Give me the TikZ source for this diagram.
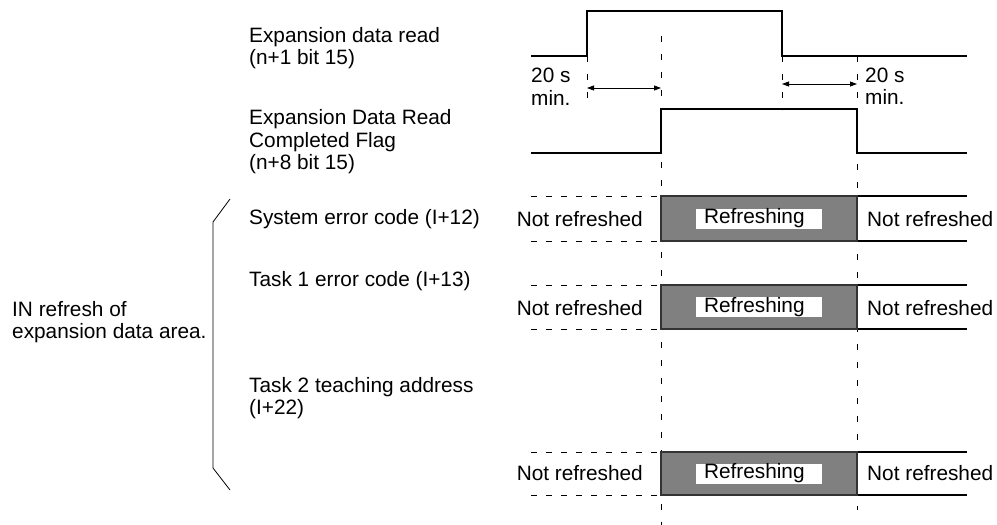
\documentclass[tikz,border=0pt]{standalone}
\usepackage{fontspec}
\setmainfont{Liberation Sans}
\usetikzlibrary{arrows.meta}
\tikzset{
    >={Triangle[length=7pt,width=5pt]},
    signal/.style={line width=1.1pt},
    guide/.style={line width=0.9pt, dash pattern=on 6pt off 12pt},
    band/.style={line width=0.9pt, dash pattern=on 6pt off 9pt},
    txt/.style={inner sep=0pt, align=left, font=\fontsize{20.8}{22.5}\selectfont},
    busy/.style={fill=gray, draw=black!80, line width=1.1pt},
    tag/.style={txt, fill=white, text width=110pt, inner xsep=8pt, minimum height=20pt}
}

\begin{document}
\begin{tikzpicture}[x=1pt, y=-1pt]
    \useasboundingbox (0,0) rectangle (997,525);

    % timing points
    \coordinate (rdon) at (587,56);
    \coordinate (rdoff) at (782,56);
    \coordinate (flon) at (661,153);
    \coordinate (floff) at (857,153);

    % guide lines
    \draw[guide] (587,56) -- (587,105);
    \draw[guide] (782,56) -- (782,110);
    \draw[guide] (661,36) -- (661,525);
    \draw[guide] (857,56) -- (857,510);

    % expansion data read
    \draw[signal] (531,56) -- (rdon) -- (587,11) -- (782,11) -- (rdoff) -- (967,56);
    % completed flag
    \draw[signal] (531,153) -- (flon) -- (661,109) -- (857,109) -- (floff) -- (967,153);

    \coordinate (a1) at (587,88);
    \coordinate (b1) at (661,88);
    \coordinate (a2) at (782,84);
    \coordinate (b2) at (857,84);
    \draw[<->, line width=0.8pt] (a1) -- (b1);
    \draw[<->, line width=0.8pt] (a2) -- (b2);

    \node[txt, anchor=west] (minl) at (531,86.5) {20 s\\min.};
    \node[txt, anchor=west] (minr) at (865,86) {20 s\\min.};

    % left labels
    \node[txt, anchor=west] (lread) at (249,48) {Expansion data read\\(n+1 bit 15)};
    \node[txt, anchor=west] (lflag) at (249,142) {Expansion Data Read\\Completed Flag\\(n+8 bit 15)};
    \node[txt, anchor=west] (lsys) at (249,219) {System error code (I+12)};
    \node[txt, anchor=west] (ltask1) at (249,281) {Task 1 error code (I+13)};
    \node[txt, anchor=west] (ltask2) at (249,398) {Task 2 teaching address\\(I+22)};
    \node[txt, anchor=west] (lin) at (12,322) {IN refresh of\\expansion data area.};

    % brace
    \draw[line width=0.8pt] (230,199) -- (213,222) -- (213,468) -- (230,490);

    % row 1
    \draw[band] (531,196) -- (661,196);
    \draw[band] (531,241) -- (661,241);
    \draw[signal] (857,196) -- (967,196);
    \draw[signal] (857,241) -- (967,241);
    \draw[busy] (661,196) rectangle (857,241);
    \node[tag] (ref1) at (759,218.5) {Refreshing};
    \node[txt, anchor=east] (nl1) at (643,219) {Not refreshed};
    \node[txt, anchor=west] (nr1) at (867,219) {Not refreshed};

    % row 2
    \draw[band] (531,285) -- (661,285);
    \draw[band] (531,329) -- (661,329);
    \draw[signal] (857,285) -- (967,285);
    \draw[signal] (857,329) -- (967,329);
    \draw[busy] (661,285) rectangle (857,329);
    \node[tag] (ref2) at (759,307) {Refreshing};
    \node[txt, anchor=east] (nl2) at (643,308) {Not refreshed};
    \node[txt, anchor=west] (nr2) at (867,308) {Not refreshed};

    % row 3
    \draw[band] (531,452) -- (661,452);
    \draw[band] (531,495) -- (661,495);
    \draw[signal] (857,452) -- (967,452);
    \draw[signal] (857,495) -- (967,495);
    \draw[busy] (661,452) rectangle (857,495);
    \node[tag] (ref3) at (759,473.5) {Refreshing};
    \node[txt, anchor=east] (nl3) at (643,473) {Not refreshed};
    \node[txt, anchor=west] (nr3) at (867,473) {Not refreshed};

\end{tikzpicture}
\end{document}
